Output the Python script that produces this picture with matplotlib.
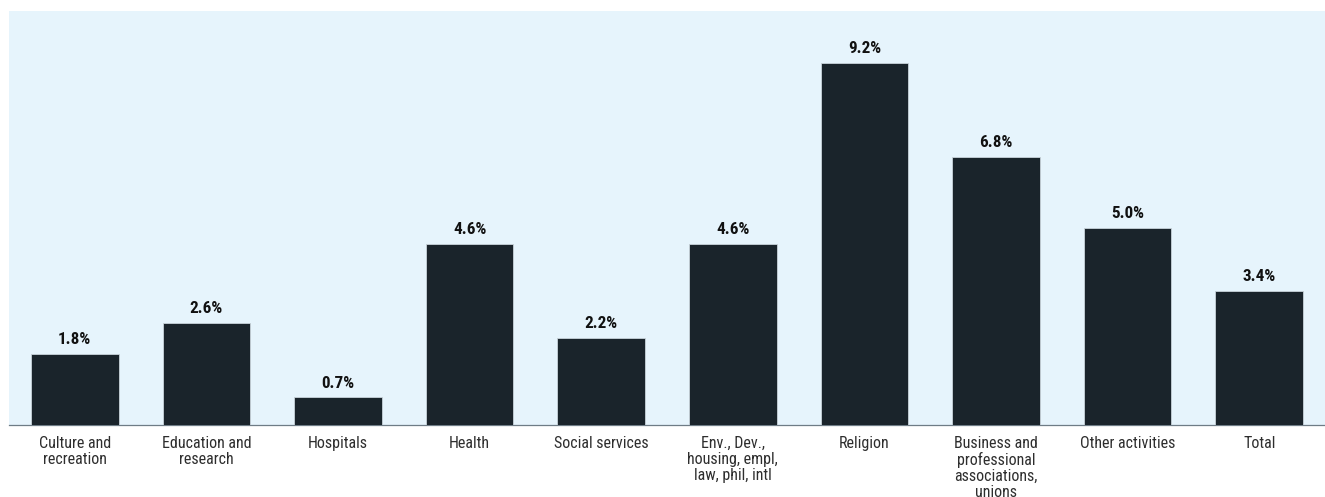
import matplotlib.pyplot as plt
import numpy as np

# ── DATA ────────────────────────────────────────────────
categories = [
    'Culture and\nrecreation',
    'Education and\nresearch',
    'Hospitals',
    'Health',
    'Social services',
    'Env., Dev.,\nhousing, empl,\nlaw, phil, intl',
    'Religion',
    'Business and\nprofessional\nassociations,\nunions',
    'Other activities',
    'Total',
]
values = [1.8, 2.6, 0.7, 4.6, 2.2, 4.6, 9.2, 6.8, 5.0, 3.4]
value_labels = ['1.8%', '2.6%', '0.7%', '4.6%', '2.2%',
                '4.6%', '9.2%', '6.8%', '5.0%', '3.4%']

plt.rcParams['font.family'] = ['Roboto Condensed', 'DejaVu Sans']

# ── FIGURE ──────────────────────────────────────────────
fig = plt.figure(figsize=(13.25, 4.97), dpi=100)
ax = fig.add_axes([9 / 1325, 72 / 497, 1316 / 1325, 414 / 497])
ax.set_facecolor('#E6F4FC')

x = np.arange(len(values))
ax.bar(x, values, width=0.665, color='#1A242B',
       edgecolor='#C9D3DA', linewidth=0.6, zorder=3)

# value labels above bars
for xi, v, lab in zip(x, values, value_labels):
    ax.annotate(lab, xy=(xi, v), xytext=(0, 5), textcoords='offset points',
                ha='center', va='bottom', fontsize=12.3, fontweight='bold',
                color='#111111')

ax.set_xlim(-0.5, len(values) - 0.5)
ax.set_ylim(0, 10.52)
ax.set_yticks([])
ax.set_xticks(x)
ax.set_xticklabels(categories, fontsize=11.5, color='#2E2E2E', linespacing=1.08)
ax.tick_params(axis='x', length=0, pad=8)

for side in ['top', 'right', 'left']:
    ax.spines[side].set_visible(False)
ax.spines['bottom'].set_color('#6E7C86')
ax.spines['bottom'].set_linewidth(0.9)

fig.savefig('out.png', dpi=100, facecolor='white')
